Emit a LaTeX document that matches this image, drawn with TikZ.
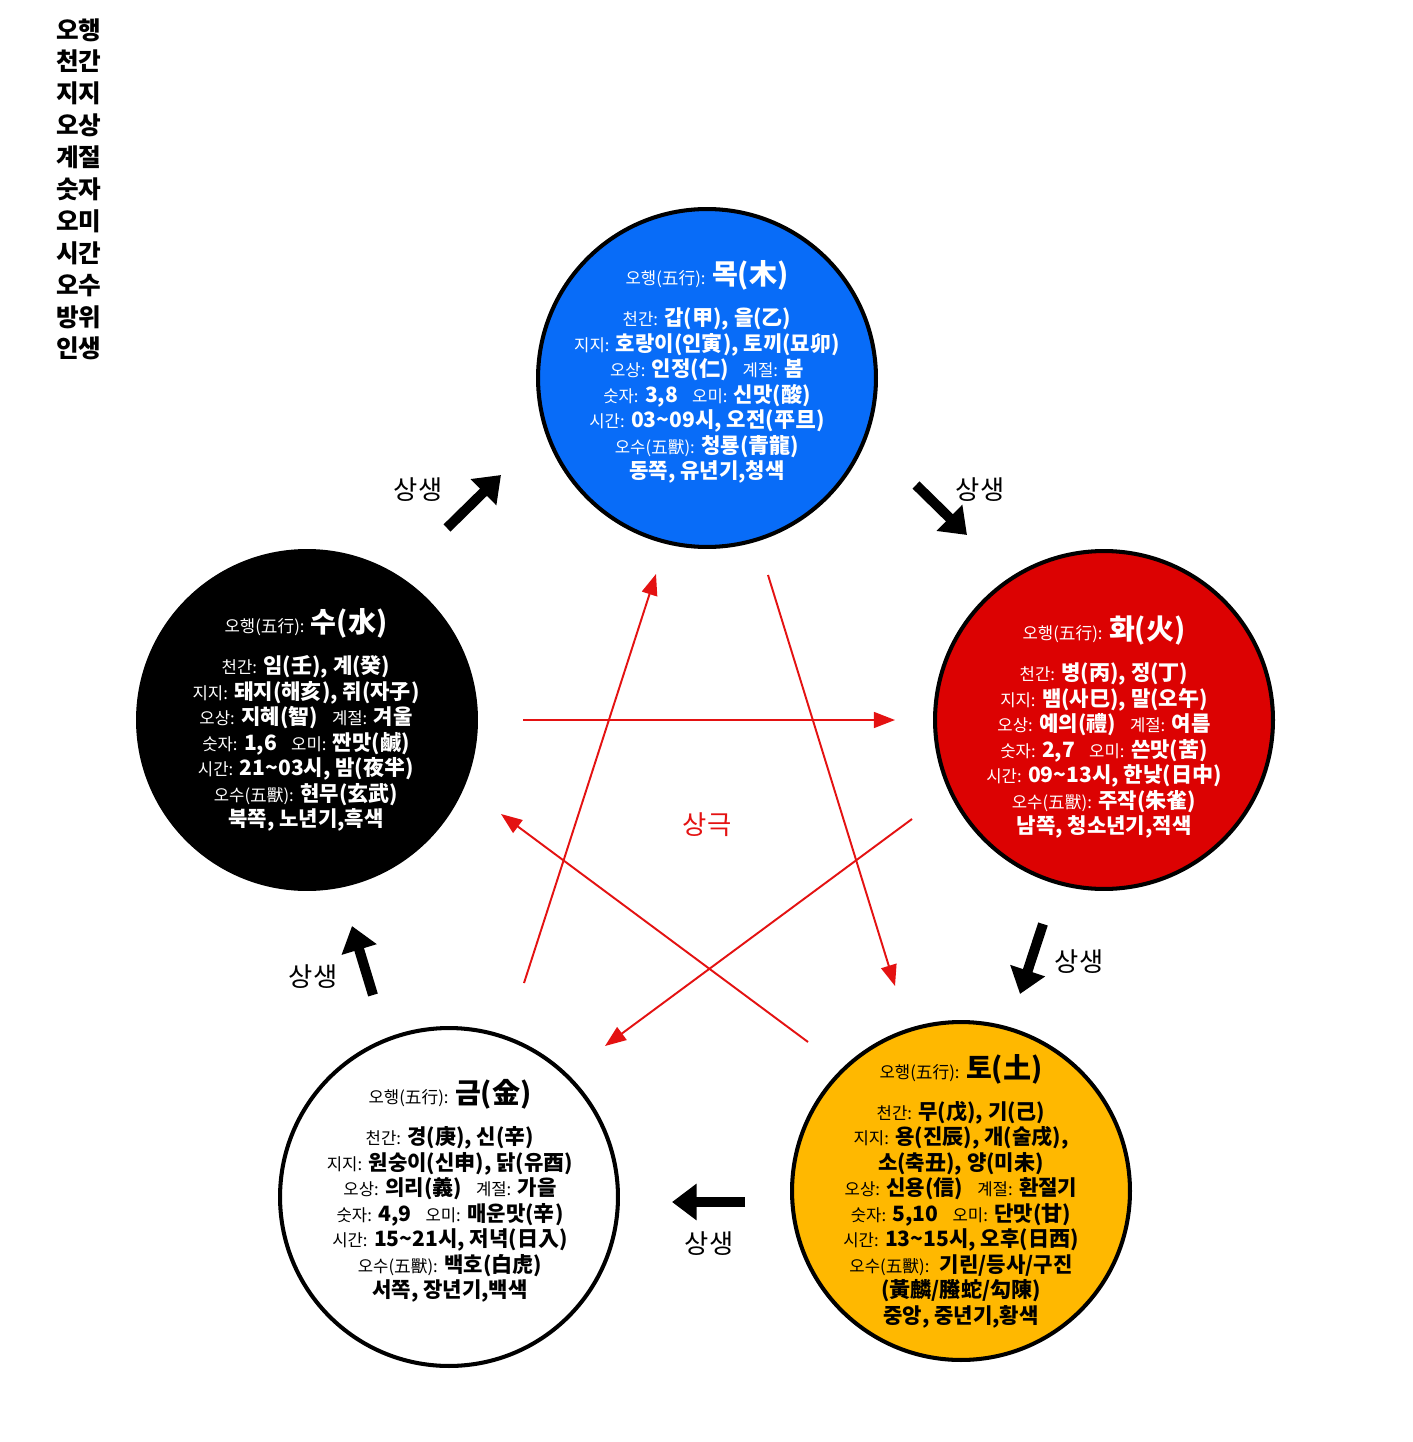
\documentclass[tikz,border=0pt]{standalone}
\usepackage{fontspec}
\setmainfont{Noto Sans CJK KR}
\usepackage{tikz}
\usetikzlibrary{arrows.meta,positioning}
\definecolor{mokblue}{RGB}{8,108,248}
\definecolor{hwared}{RGB}{220,2,2}
\definecolor{toyellow}{RGB}{255,184,0}
\definecolor{geukred}{RGB}{228,18,18}

% small label and big title inside the circles
\newcommand{\lbl}[1]{{\mdseries\fontsize{9.5}{14.5}\selectfont #1}}
\newcommand{\ttl}[1]{{\fontsize{16}{14.5}\selectfont #1}}

\begin{document}
\begin{tikzpicture}[x=0.02cm, y=-0.02cm,
    element/.style={draw=black, line width=2.3pt, circle, minimum size=6.76cm, inner sep=0pt},
    elemtxt/.style={align=center, inner sep=0pt, font=\fontsize{12}{14.5}\selectfont\bfseries},
    geuk/.style={draw=geukred, line width=1.1pt, -{Triangle[length=12pt,width=9pt]}},
    saeng/.style={draw=black, line width=5.7pt, -{Triangle[length=14pt,width=20pt]}},
    saenglbl/.style={font=\fontsize{15}{18}\selectfont, inner sep=0pt}]

    \path[use as bounding box, fill=white] (0,0) rectangle (1412,1442);

    % Legend
    \node[anchor=north west, align=left, inner sep=0pt, font=\fontsize{14}{18.15}\selectfont\bfseries] (legend) at (56,18)
        {오행\\천간\\지지\\오상\\계절\\숫자\\오미\\시간\\오수\\방위\\인생};

    % Five elements
    \node[element, fill=mokblue] (wood) at (707,378) {};
    \node[element, fill=hwared] (fire) at (1104,720) {};
    \node[element, fill=toyellow] (earth) at (961,1191) {};
    \node[element, fill=white] (metal) at (449,1197) {};
    \node[element, fill=black] (water) at (307,720) {};

    \node[elemtxt, text=white] (woodtxt) at (707,372) {\lbl{오행(五行):} \ttl{목(木)}\\[9pt]
        \lbl{천간:} 갑(甲), 을(乙)\\
        \lbl{지지:} 호랑이(인寅), 토끼(묘卯)\\
        \lbl{오상:} 인정(仁)\hspace{8pt}\lbl{계절:} 봄\\
        \lbl{숫자:} 3,8\hspace{8pt}\lbl{오미:} 신맛(酸)\\
        \lbl{시간:} 03\textasciitilde09시, 오전(平旦)\\
        \lbl{오수(五獸):} 청룡(青龍)\\
        동쪽, 유년기,청색};
    \node[elemtxt, text=white] (firetxt) at (1104,727) {\lbl{오행(五行):} \ttl{화(火)}\\[9pt]
        \lbl{천간:} 병(丙), 정(丁)\\
        \lbl{지지:} 뱀(사巳), 말(오午)\\
        \lbl{오상:} 예의(禮)\hspace{8pt}\lbl{계절:} 여름\\
        \lbl{숫자:} 2,7\hspace{8pt}\lbl{오미:} 쓴맛(苦)\\
        \lbl{시간:} 09\textasciitilde13시, 한낮(日中)\\
        \lbl{오수(五獸):} 주작(朱雀)\\
        남쪽, 청소년기,적색};
    \node[elemtxt, text=black] (earthtxt) at (961,1191) {\lbl{오행(五行):} \ttl{토(土)}\\[9pt]
        \lbl{천간:} 무(戊), 기(己)\\
        \lbl{지지:} 용(진辰), 개(술戌),\\
        소(축丑), 양(미未)\\
        \lbl{오상:} 신용(信)\hspace{8pt}\lbl{계절:} 환절기\\
        \lbl{숫자:} 5,10\hspace{8pt}\lbl{오미:} 단맛(甘)\\
        \lbl{시간:} 13\textasciitilde15시, 오후(日西)\\
        \lbl{오수(五獸):}\hspace{6pt}기린/등사/구진\\
        (黃麟/螣蛇/勾陳)\\
        중앙, 중년기,황색};
    \node[elemtxt, text=black] (metaltxt) at (450,1191) {\lbl{오행(五行):} \ttl{금(金)}\\[9pt]
        \lbl{천간:} 경(庚), 신(辛)\\
        \lbl{지지:} 원숭이(신申), 닭(유酉)\\
        \lbl{오상:} 의리(義)\hspace{8pt}\lbl{계절:} 가을\\
        \lbl{숫자:} 4,9\hspace{8pt}\lbl{오미:} 매운맛(辛)\\
        \lbl{시간:} 15\textasciitilde21시, 저녁(日入)\\
        \lbl{오수(五獸):} 백호(白虎)\\
        서쪽, 장년기,백색};
    \node[elemtxt, text=white] (watertxt) at (306,720) {\lbl{오행(五行):} \ttl{수(水)}\\[9pt]
        \lbl{천간:} 임(壬), 계(癸)\\
        \lbl{지지:} 돼지(해亥), 쥐(자子)\\
        \lbl{오상:} 지혜(智)\hspace{8pt}\lbl{계절:} 겨울\\
        \lbl{숫자:} 1,6\hspace{8pt}\lbl{오미:} 짠맛(鹹)\\
        \lbl{시간:} 21\textasciitilde03시, 밤(夜半)\\
        \lbl{오수(五獸):} 현무(玄武)\\
        북쪽, 노년기,흑색};

    % Sangsaeng arrows
    \coordinate (s1a) at (447,528); \coordinate (s1b) at (501,475);
    \coordinate (s2a) at (916,485); \coordinate (s2b) at (967,535);
    \coordinate (s3a) at (1043,924); \coordinate (s3b) at (1020,994);
    \coordinate (s4a) at (745,1202); \coordinate (s4b) at (672,1202);
    \coordinate (s5a) at (373,995); \coordinate (s5b) at (352,926);
    \draw[saeng] (s1a) -- (s1b);
    \draw[saeng] (s2a) -- (s2b);
    \draw[saeng] (s3a) -- (s3b);
    \draw[saeng] (s4a) -- (s4b);
    \draw[saeng] (s5a) -- (s5b);
    \node[saenglbl] (ss1) at (418,490) {상생};
    \node[saenglbl] (ss2) at (980,490) {상생};
    \node[saenglbl] (ss3) at (1079,962) {상생};
    \node[saenglbl] (ss4) at (709,1244) {상생};
    \node[saenglbl] (ss5) at (313,977) {상생};

    % Sanggeuk star
    \coordinate (k1a) at (524,983); \coordinate (k1b) at (656,574);
    \coordinate (k2a) at (768,575); \coordinate (k2b) at (895,986);
    \coordinate (k3a) at (523,720); \coordinate (k3b) at (895,720);
    \coordinate (k4a) at (912,819); \coordinate (k4b) at (605,1046);
    \coordinate (k5a) at (808,1042); \coordinate (k5b) at (501,814);
    \draw[geuk] (k1a) -- (k1b);
    \draw[geuk] (k2a) -- (k2b);
    \draw[geuk] (k3a) -- (k3b);
    \draw[geuk] (k4a) -- (k4b);
    \draw[geuk] (k5a) -- (k5b);
    \node[saenglbl, text=geukred] (sanggeuk) at (707,825) {상극};
\end{tikzpicture}
\end{document}
